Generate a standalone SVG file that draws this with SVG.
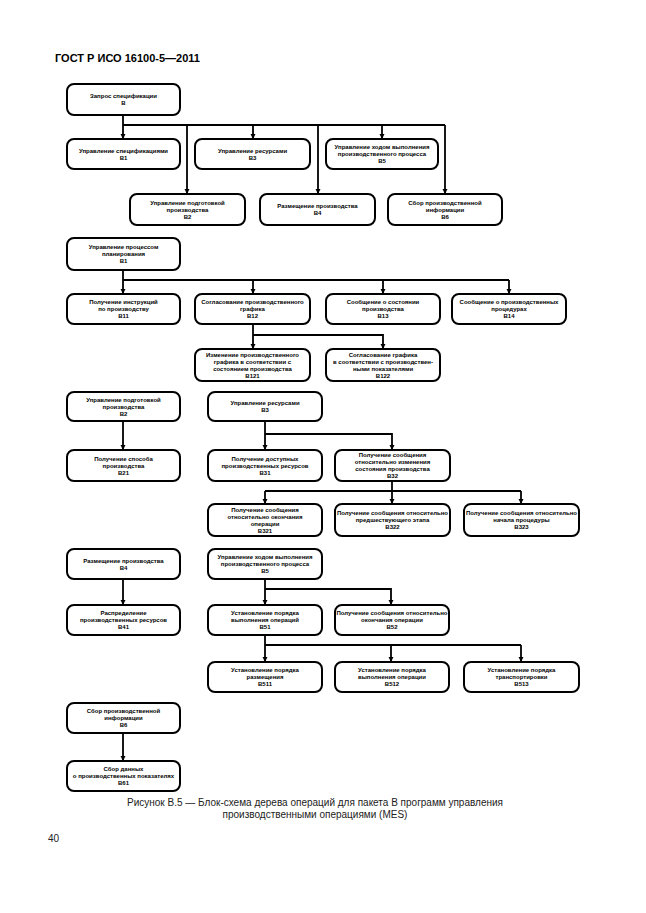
<svg xmlns="http://www.w3.org/2000/svg" width="646" height="913" viewBox="0 0 646 913">
<style>
.box{fill:#fff;stroke:#000;stroke-width:2}
.t{font-family:"Liberation Sans",Arial,sans-serif;font-size:6px;font-weight:bold;text-anchor:middle;fill:#000}
.c{stroke:#000;stroke-width:1.8;fill:none}
.a{stroke:#000;stroke-width:1.8;fill:none;marker-end:url(#ar)}
.cap{font-family:"Liberation Sans",Arial,sans-serif;font-size:10px;text-anchor:middle;fill:#222}
</style>
<defs>
<marker id="ar" markerUnits="userSpaceOnUse" markerWidth="6" markerHeight="6" refX="5" refY="2.5" orient="auto">
<path d="M0,0 L5,2.5 L0,5 z" fill="#000"/>
</marker>
</defs>
<rect width="646" height="913" fill="#fff"/>
<text x="55" y="62" font-family="Liberation Sans,Arial,sans-serif" font-size="11" font-weight="bold">ГОСТ Р ИСО 16100-5—2011</text>

<g id="connectors">
<path class="a" d="M123,115 V139"/>
<path class="c" d="M123,125 H445"/>
<path class="a" d="M253,125 V139"/>
<path class="a" d="M382,125 V139"/>
<path class="a" d="M187,125 V194"/>
<path class="a" d="M318,125 V194"/>
<path class="a" d="M445,125 V194"/>

<path class="a" d="M123,270 V294"/>
<path class="c" d="M123,280 H509"/>
<path class="a" d="M253,280 V294"/>
<path class="a" d="M383,280 V294"/>
<path class="a" d="M509,280 V294"/>
<path class="a" d="M253,324 V349"/>
<path class="a" d="M253,335 H383 V349"/>

<path class="a" d="M123,421 V450"/>
<path class="a" d="M265,421 V450"/>
<path class="a" d="M265,434 H392 V450"/>
<path class="a" d="M392,481 V504"/>
<path class="c" d="M265,491 H521"/>
<path class="a" d="M265,491 V504"/>
<path class="a" d="M521,491 V504"/>

<path class="a" d="M123,579 V605"/>
<path class="a" d="M265,579 V605"/>
<path class="a" d="M265,589 H391 V605"/>
<path class="a" d="M265,635 V662"/>
<path class="c" d="M265,645 H521"/>
<path class="a" d="M391,645 V662"/>
<path class="a" d="M521,645 V662"/>

<path class="a" d="M123,733 V761"/>
</g>

<g id="n-B"><rect class="box" x="67" y="84" width="113" height="31" rx="7"/>
<text class="t" x="123.5" y="98">Запрос спецификации</text><text class="t" x="123.5" y="105">В</text></g>

<g id="n-B1a"><rect class="box" x="67" y="139" width="113" height="30" rx="7"/>
<text class="t" x="123.5" y="152.5">Управление спецификациями</text><text class="t" x="123.5" y="159.5">В1</text></g>
<g id="n-B3a"><rect class="box" x="195" y="139" width="115" height="30" rx="7"/>
<text class="t" x="252.5" y="152.5">Управление ресурсами</text><text class="t" x="252.5" y="159.5">В3</text></g>
<g id="n-B5a"><rect class="box" x="326" y="139" width="112" height="30" rx="7"/>
<text class="t" x="382" y="149">Управление ходом выполнения</text><text class="t" x="382" y="156">производственного процесса</text><text class="t" x="382" y="163">В5</text></g>

<g id="n-B2a"><rect class="box" x="130" y="194" width="115" height="31" rx="7"/>
<text class="t" x="187.5" y="204.5">Управление подготовкой</text><text class="t" x="187.5" y="211.5">производства</text><text class="t" x="187.5" y="218.5">В2</text></g>
<g id="n-B4a"><rect class="box" x="260" y="194" width="115" height="31" rx="7"/>
<text class="t" x="317.5" y="208">Размещение производства</text><text class="t" x="317.5" y="215">В4</text></g>
<g id="n-B6a"><rect class="box" x="388" y="194" width="114" height="31" rx="7"/>
<text class="t" x="445" y="204.5">Сбор производственной</text><text class="t" x="445" y="211.5">информации</text><text class="t" x="445" y="218.5">В6</text></g>

<g id="n-B1"><rect class="box" x="67" y="238" width="113" height="32" rx="7"/>
<text class="t" x="123.5" y="249">Управление процессом</text><text class="t" x="123.5" y="256">планирования</text><text class="t" x="123.5" y="263">В1</text></g>

<g id="n-B11"><rect class="box" x="67" y="294" width="113" height="30" rx="7"/>
<text class="t" x="123.5" y="304">Получение инструкций</text><text class="t" x="123.5" y="311">по производству</text><text class="t" x="123.5" y="318">В11</text></g>
<g id="n-B12"><rect class="box" x="195" y="294" width="115" height="30" rx="7"/>
<text class="t" x="252.5" y="304">Согласование производственного</text><text class="t" x="252.5" y="311">графика</text><text class="t" x="252.5" y="318">В12</text></g>
<g id="n-B13"><rect class="box" x="326" y="294" width="114" height="30" rx="7"/>
<text class="t" x="383" y="304">Сообщение о состоянии</text><text class="t" x="383" y="311">производства</text><text class="t" x="383" y="318">В13</text></g>
<g id="n-B14"><rect class="box" x="452" y="294" width="114" height="30" rx="7"/>
<text class="t" x="509" y="304">Сообщение о производственных</text><text class="t" x="509" y="311">процедурах</text><text class="t" x="509" y="318">В14</text></g>

<g id="n-B121"><rect class="box" x="195" y="349" width="115" height="32" rx="7"/>
<text class="t" x="252.5" y="356.5">Изменение производственного</text><text class="t" x="252.5" y="363.5">графика в соответствии с</text><text class="t" x="252.5" y="370.5">состоянием производства</text><text class="t" x="252.5" y="377.5">В121</text></g>
<g id="n-B122"><rect class="box" x="326" y="349" width="114" height="32" rx="7"/>
<text class="t" x="383" y="356.5">Согласование графика</text><text class="t" x="383" y="363.5">в соответствии с производствен-</text><text class="t" x="383" y="370.5">ными показателями</text><text class="t" x="383" y="377.5">В122</text></g>

<g id="n-B2"><rect class="box" x="67" y="392" width="113" height="29" rx="7"/>
<text class="t" x="123.5" y="401.5">Управление подготовкой</text><text class="t" x="123.5" y="408.5">производства</text><text class="t" x="123.5" y="415.5">В2</text></g>
<g id="n-B21"><rect class="box" x="67" y="450" width="113" height="31" rx="7"/>
<text class="t" x="123.5" y="460.5">Получение способа</text><text class="t" x="123.5" y="467.5">производства</text><text class="t" x="123.5" y="474.5">В21</text></g>

<g id="n-B3"><rect class="box" x="208" y="392" width="114" height="29" rx="7"/>
<text class="t" x="265" y="405">Управление ресурсами</text><text class="t" x="265" y="412">В3</text></g>
<g id="n-B31"><rect class="box" x="208" y="450" width="114" height="31" rx="7"/>
<text class="t" x="265" y="460.5">Получение доступных</text><text class="t" x="265" y="467.5">производственных ресурсов</text><text class="t" x="265" y="474.5">В31</text></g>
<g id="n-B32"><rect class="box" x="335" y="450" width="115" height="31" rx="7"/>
<text class="t" x="392.5" y="457">Получение сообщения</text><text class="t" x="392.5" y="464">относительно изменения</text><text class="t" x="392.5" y="471">состояния производства</text><text class="t" x="392.5" y="478">В32</text></g>

<g id="n-B321"><rect class="box" x="208" y="504" width="114" height="32" rx="7"/>
<text class="t" x="265" y="511.5">Получение сообщения</text><text class="t" x="265" y="518.5">относительно окончания</text><text class="t" x="265" y="525.5">операции</text><text class="t" x="265" y="532.5">В321</text></g>
<g id="n-B322"><rect class="box" x="335" y="504" width="115" height="32" rx="7"/>
<text class="t" x="392.5" y="515">Получение сообщения относительно</text><text class="t" x="392.5" y="522">предшествующего этапа</text><text class="t" x="392.5" y="529">В322</text></g>
<g id="n-B323"><rect class="box" x="464" y="504" width="115" height="32" rx="7"/>
<text class="t" x="521.5" y="515">Получение сообщения относительно</text><text class="t" x="521.5" y="522">начала процедуры</text><text class="t" x="521.5" y="529">В323</text></g>

<g id="n-B4"><rect class="box" x="67" y="549" width="113" height="30" rx="7"/>
<text class="t" x="123.5" y="562.5">Размещение производства</text><text class="t" x="123.5" y="569.5">В4</text></g>
<g id="n-B41"><rect class="box" x="67" y="605" width="113" height="30" rx="7"/>
<text class="t" x="123.5" y="615">Распределение</text><text class="t" x="123.5" y="622">производственных ресурсов</text><text class="t" x="123.5" y="629">В41</text></g>

<g id="n-B5"><rect class="box" x="208" y="549" width="114" height="30" rx="7"/>
<text class="t" x="265" y="559">Управление ходом выполнения</text><text class="t" x="265" y="566">производственного процесса</text><text class="t" x="265" y="573">В5</text></g>
<g id="n-B51"><rect class="box" x="208" y="605" width="114" height="30" rx="7"/>
<text class="t" x="265" y="615">Установление порядка</text><text class="t" x="265" y="622">выполнения операций</text><text class="t" x="265" y="629">В51</text></g>
<g id="n-B52"><rect class="box" x="335" y="605" width="114" height="30" rx="7"/>
<text class="t" x="392" y="615">Получение сообщения относительно</text><text class="t" x="392" y="622">окончания операции</text><text class="t" x="392" y="629">В52</text></g>

<g id="n-B511"><rect class="box" x="208" y="662" width="114" height="30" rx="7"/>
<text class="t" x="265" y="672">Установление порядка</text><text class="t" x="265" y="679">размещения</text><text class="t" x="265" y="686">В511</text></g>
<g id="n-B512"><rect class="box" x="335" y="662" width="114" height="30" rx="7"/>
<text class="t" x="392" y="672">Установление порядка</text><text class="t" x="392" y="679">выполнения операции</text><text class="t" x="392" y="686">В512</text></g>
<g id="n-B513"><rect class="box" x="464" y="662" width="115" height="30" rx="7"/>
<text class="t" x="521.5" y="672">Установление порядка</text><text class="t" x="521.5" y="679">транспортировки</text><text class="t" x="521.5" y="686">В513</text></g>

<g id="n-B6"><rect class="box" x="67" y="703" width="113" height="30" rx="7"/>
<text class="t" x="123.5" y="713">Сбор производственной</text><text class="t" x="123.5" y="720">информации</text><text class="t" x="123.5" y="727">В6</text></g>
<g id="n-B61"><rect class="box" x="67" y="761" width="113" height="30" rx="7"/>
<text class="t" x="123.5" y="771">Сбор данных</text><text class="t" x="123.5" y="778">о производственных показателях</text><text class="t" x="123.5" y="785">В61</text></g>

<text class="cap" x="315" y="806">Рисунок В.5 — Блок-схема дерева операций для пакета В программ управления</text>
<text class="cap" x="315" y="818">производственными операциями (MES)</text>
<text x="48" y="842" font-family="Liberation Sans,Arial,sans-serif" font-size="10" fill="#222">40</text>
</svg>
